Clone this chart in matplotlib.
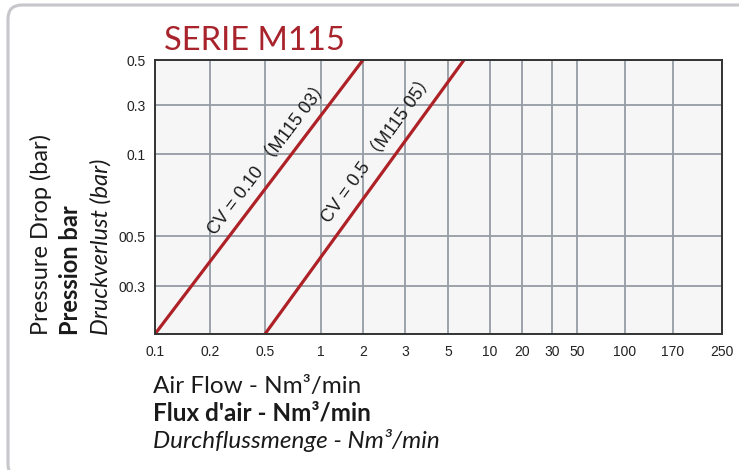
import matplotlib
matplotlib.use("Agg")
import matplotlib.pyplot as plt
import numpy as np
from matplotlib.patches import FancyBboxPatch
from matplotlib.transforms import IdentityTransform

# Flow axis ticks (Nm3/min) and pressure axis ticks (bar)
flow_ticks = [0.1, 0.2, 0.5, 1, 2, 3, 5, 10, 20, 30, 50, 100, 170, 250]
flow_labels = ["0.1", "0.2", "0.5", "1", "2", "3", "5", "10", "20", "30",
               "50", "100", "170", "250"]
pressure_ticks = [0.01, 0.03, 0.05, 0.1, 0.3, 0.5]
pressure_labels = ["", "00.3", "00.5", "0.1", "0.3", "0.5"]

# Flow curves (start / end points)
m115_03_flow = [0.1, 2.0]
m115_03_dp = [0.01, 0.5]
m115_05_flow = [0.5, 6.9]
m115_05_dp = [0.01, 0.5]

# the printed grid is not a true log scale: spacing between gridlines
# is hand drawn, so map each tick to its place along the axis
flow_grid = np.array([0, 55, 110, 165.5, 208, 250, 293, 335, 367, 397,
                      422, 470, 518, 567], dtype=float)
dp_grid = np.array([0, 48, 98, 180, 229, 274], dtype=float)


def piecewise(vals, grid):
    vals = np.asarray(vals, dtype=float)
    fwd = lambda v: np.interp(v, vals, grid)
    inv = lambda g: np.interp(g, grid, vals)
    return fwd, inv


RED = "#ad2127"
GRID = "#959ca3"
tick_font = ["Liberation Sans Narrow", "Liberation Sans"]
label_font = ["Lato", "DejaVu Sans"]

fig = plt.figure(figsize=(7.39, 4.70), dpi=100)
ax = fig.add_axes([155 / 739, 136 / 470, 567 / 739, 274 / 470])
ax.set_facecolor("#f6f6f6")
ax.set_xscale("function", functions=piecewise(flow_ticks, flow_grid))
ax.set_yscale("function", functions=piecewise(pressure_ticks, dp_grid))
ax.set_xlim(flow_ticks[0], flow_ticks[-1])
ax.set_ylim(pressure_ticks[0], pressure_ticks[-1])

ax.set_xticks(flow_ticks)
ax.set_xticklabels(flow_labels, family=tick_font, fontsize=10)
ax.set_yticks(pressure_ticks)
ax.set_yticklabels(pressure_labels, family=tick_font, fontsize=10)
ax.xaxis.set_minor_locator(matplotlib.ticker.NullLocator())
ax.yaxis.set_minor_locator(matplotlib.ticker.NullLocator())
ax.tick_params(axis="x", length=0, pad=8, colors="#222222")
ax.tick_params(axis="y", length=0, pad=7, colors="#222222")
ax.grid(True, color=GRID, lw=1.3)
ax.set_axisbelow(True)
for side in ax.spines.values():
    side.set_color("#333333")
    side.set_linewidth(1.4)
    side.set_zorder(5)

curves = [
    (m115_03_flow, m115_03_dp, "CV = 0.10 \uff08M115 03\uff09", 0.61, 16),
    (m115_05_flow, m115_05_dp, "CV = 0.5 \uff08M115 05\uff09", 0.64, 17),
]
for fx, dp, text, frac, off in curves:
    ax.plot(fx, dp, color=RED, lw=2.3, solid_capstyle="butt", zorder=4,
            clip_on=True)
    # put the label along the line, nudged to its upper-left side
    p0 = ax.transData.transform((fx[0], dp[0]))
    p1 = ax.transData.transform((fx[1], dp[1]))
    d = p1 - p0
    u = d / np.hypot(*d)
    n = np.array([-u[1], u[0]])
    pos = p0 + frac * d + off * n
    ang = np.degrees(np.arctan2(d[1], d[0]))
    ax.text(pos[0], pos[1], text, transform=IdentityTransform(),
            rotation=ang, rotation_mode="anchor", ha="center", va="center",
            fontsize=13, color="#1a1a1a",
            family=["Liberation Sans", "Noto Sans CJK SC"], zorder=6)

fig.text(164 / 739, 1 - 50 / 470, "SERIE M115", color="#a8232b",
         fontsize=23.5, family=label_font, ha="left", va="baseline")

# stacked axis captions (EN / FR / DE)
ylabels = [("Pressure Drop (bar)", "normal", "normal"),
           ("Pression bar", "bold", "normal"),
           ("Druckverlust (bar)", "normal", "italic")]
for i, (s, w, st) in enumerate(ylabels):
    fig.text((48 + 30 * i) / 739, 1 - 335 / 470, s, rotation=90,
             rotation_mode="anchor", ha="left", va="baseline",
             fontsize=17, fontweight=w, fontstyle=st, family=label_font,
             color="#1a1a1a")

xlabels = [("Air Flow - Nm³/min", "normal", "normal"),
           ("Flux d'air - Nm³/min", "bold", "normal"),
           ("Durchflussmenge - Nm³/min", "normal", "italic")]
for i, (s, w, st) in enumerate(xlabels):
    fig.text(153 / 739, 1 - (393 + 27.5 * i) / 470, s, ha="left",
             va="baseline", fontsize=17.5, fontweight=w, fontstyle=st,
             family=label_font, color="#1a1a1a")

frame = FancyBboxPatch((8, -8), 780, 473,
                       boxstyle="round,pad=0,rounding_size=14",
                       transform=IdentityTransform(), fill=False,
                       edgecolor="#c6c6cb", lw=2.2, zorder=0)
fig.patches.append(frame)

fig.savefig("out.png", dpi=100)
